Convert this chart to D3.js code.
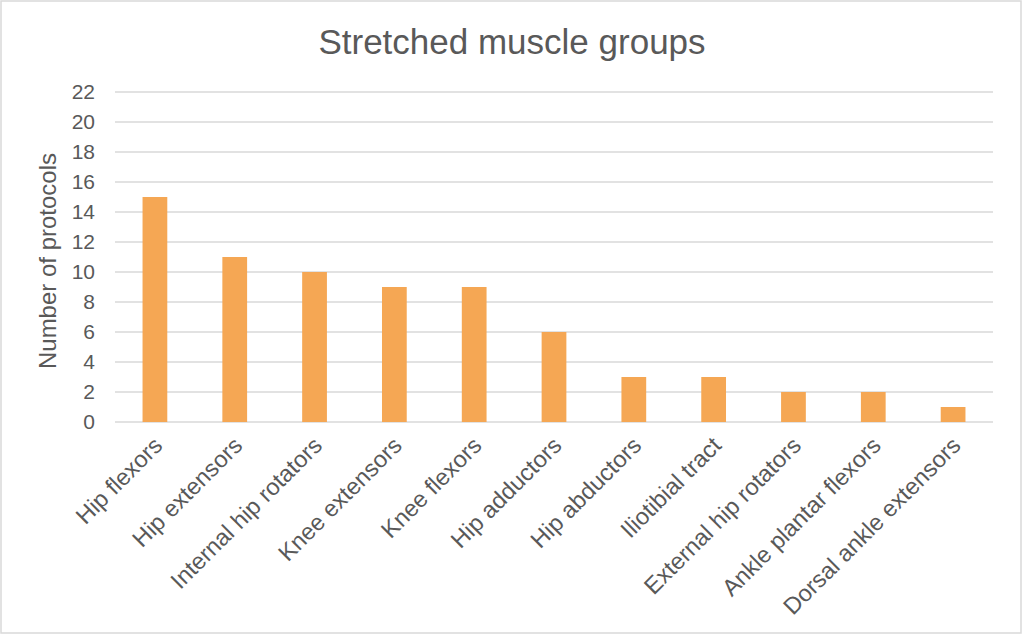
<!DOCTYPE html>
<html>
<head>
<meta charset="utf-8">
<script src="https://cdn.jsdelivr.net/npm/d3@7"></script>
<style>
  body { margin: 0; background: #fff; }
  text { font-family: Arial, "Liberation Sans", sans-serif; fill: #595959; }
</style>
</head>
<body>
<svg id="chart" width="1023" height="636"></svg>
<script>
// muscle groups and number of protocols
var categories = ['Hip flexors', 'Hip extensors', 'Internal hip rotators', 'Knee extensors',
  'Knee flexors', 'Hip adductors', 'Hip abductors', 'Iliotibial tract',
  'External hip rotators', 'Ankle plantar flexors', 'Dorsal ankle extensors'];
var protocols = [15, 11, 10, 9, 9, 6, 3, 3, 2, 2, 1];
var yTicks = [0, 2, 4, 6, 8, 10, 12, 14, 16, 18, 20, 22];

var svg = d3.select('#chart');

// outer border
svg.append('rect')
  .attr('x', 1).attr('y', 1)
  .attr('width', 1020).attr('height', 632)
  .attr('fill', '#fff')
  .attr('stroke', '#D9D9D9')
  .attr('stroke-width', 1.5);

var margin = {top: 92, left: 115, right: 30, bottom: 214};
var plotW = 1023 - margin.left - margin.right,
    plotH = 636 - margin.top - margin.bottom;

var x = d3.scaleBand().domain(categories).range([margin.left, margin.left + plotW]).paddingInner(0.69).paddingOuter(0.345);
var y = d3.scaleLinear().domain([0, 22]).range([margin.top + plotH, margin.top]);

// gridlines
svg.append('g')
  .selectAll('line')
  .data(yTicks)
  .enter()
  .append('line')
  .attr('x1', margin.left)
  .attr('x2', margin.left + plotW)
  .attr('y1', function(d) { return y(d); })
  .attr('y2', function(d) { return y(d); })
  .attr('stroke', '#D9D9D9')
  .attr('stroke-width', 1.3);

// y axis labels
var yAxis = d3.axisLeft(y).tickValues(yTicks).tickSize(0).tickPadding(20);
var yg = svg.append('g')
  .attr('transform', 'translate(' + margin.left + ',0)')
  .call(yAxis);
yg.select('.domain').remove();
yg.selectAll('text').style('font-size', '21px').attr('fill', '#595959');

// bars
svg.selectAll('.bar')
  .data(protocols)
  .enter()
  .append('rect')
  .attr('class', 'bar')
  .attr('x', function(d, i) { return x(categories[i]); })
  .attr('y', function(d) { return y(d); })
  .attr('width', x.bandwidth())
  .attr('height', function(d) { return y(0) - y(d); })
  .attr('fill', '#F5A754');

// x axis labels
var xAxis = d3.axisBottom(x).tickSize(0).tickPadding(0);
var xg = svg.append('g')
  .attr('transform', 'translate(0,' + y(0) + ')')
  .call(xAxis);
xg.select('.domain').remove();
xg.selectAll('text')
  .style('font-size', '23.5px')
  .attr('fill', '#595959')
  .style('text-anchor', 'end')
  .attr('dy', '0')
  .attr('y', 0)
  .attr('transform', 'translate(9,25) rotate(-45)');

// title
svg.append('text')
  .text('Stretched muscle groups')
  .attr('x', 512)
  .attr('y', 54)
  .attr('text-anchor', 'middle')
  .style('font-size', '35px');

// y axis title
svg.append('text')
  .text('Number of protocols')
  .attr('transform', 'translate(56,' + (y(11) + 4) + ') rotate(-90)')
  .attr('text-anchor', 'middle')
  .style('font-size', '24px');
</script>
</body>
</html>
